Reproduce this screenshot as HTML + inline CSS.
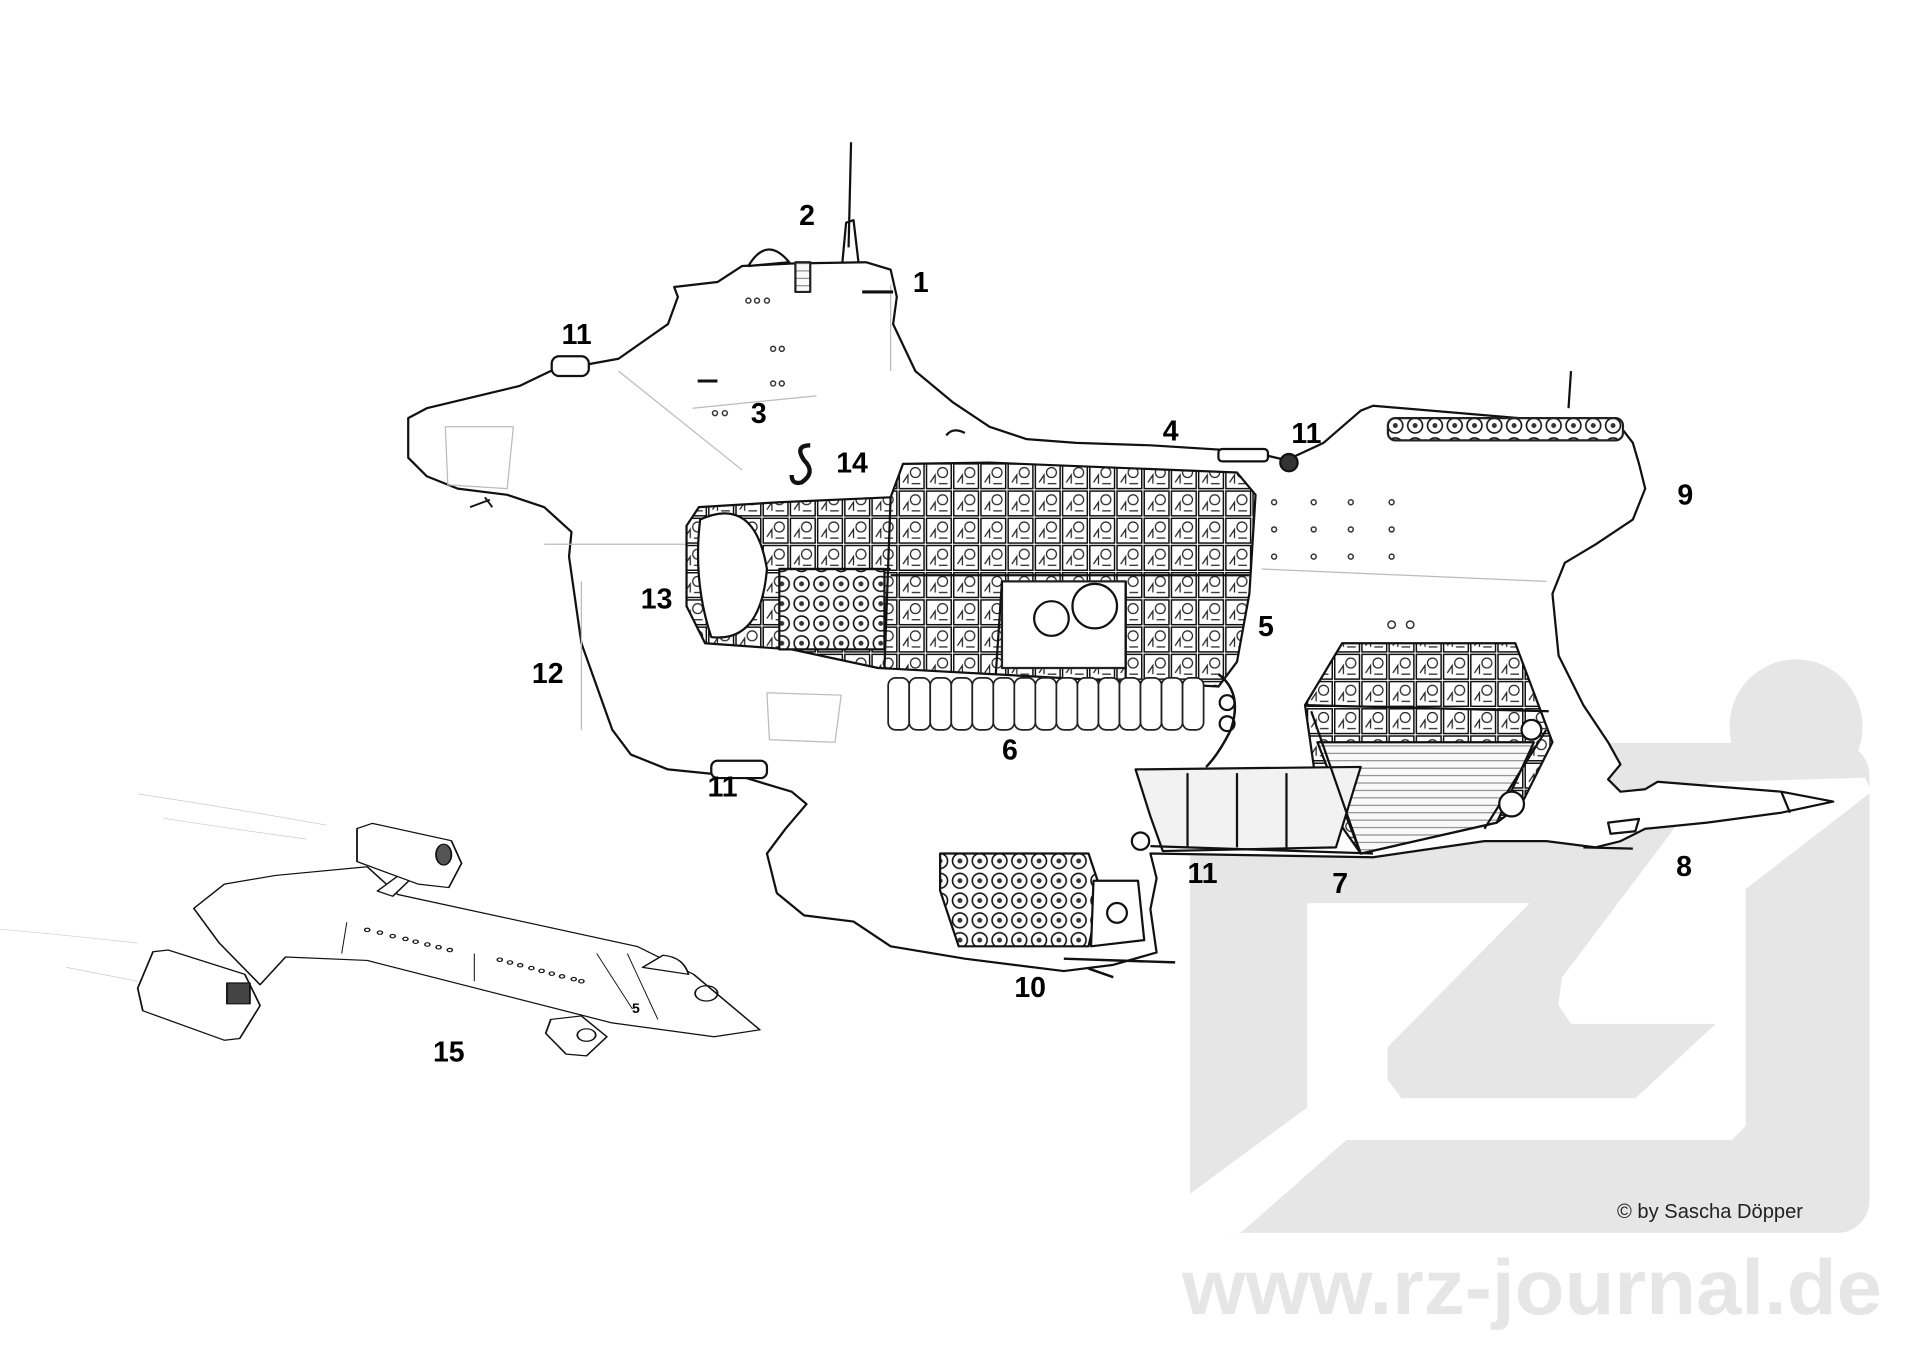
<!DOCTYPE html>
<html><head><meta charset="utf-8"><style>
html,body{margin:0;padding:0;background:#fff;}
svg{display:block;}
.l{font-family:"Liberation Sans",sans-serif;font-weight:bold;font-size:23px;fill:#000;}
</style></head><body>
<svg width="1920" height="1356" viewBox="0 0 1920 1356" xmlns="http://www.w3.org/2000/svg">
<defs>
<pattern id="cab" width="22" height="22" patternUnits="userSpaceOnUse">
<rect width="22" height="22" fill="#fff"/>
<rect x="1" y="1" width="20" height="20" fill="none" stroke="#111" stroke-width="1.2"/>
<circle cx="14" cy="8" r="4" fill="none" stroke="#222" stroke-width="1"/>
<path d="M4 16 L8 10 L8 17 M11 17 L18 17" stroke="#222" stroke-width="1" fill="none"/>
</pattern>
<pattern id="eng" width="16" height="16" patternUnits="userSpaceOnUse">
<rect width="16" height="16" fill="#fff"/>
<circle cx="8" cy="8" r="6" fill="none" stroke="#111" stroke-width="1.3"/>
<circle cx="8" cy="8" r="2" fill="#333"/>
</pattern>
<pattern id="hatch" width="6" height="6" patternUnits="userSpaceOnUse">
<rect width="6" height="6" fill="#fafafa"/>
<path d="M0 3 H6" stroke="#777" stroke-width="0.8"/>
</pattern>
</defs>
<rect width="1920" height="1356" fill="#fff"/>

<!-- logo -->
<g transform="translate(1181,643) scale(0.459,0.4645)" fill="#e6e6e6">
<rect x="20" y="215" width="1480" height="1055" rx="70"/>
<circle cx="1340" cy="180" r="145"/>
<polygon fill="#fff" points="275,560 760,560 450,870 450,940 480,980 990,980 1165,820 850,820 822,780 830,720 1150,300 1490,290 1505,320 1230,530 1230,1040 1200,1070 360,1070 130,1270 0,1270 0,1200 275,1000"/>
</g>
<text x="1182" y="1314" font-family="Liberation Sans,sans-serif" font-weight="bold" font-size="78" fill="#e6e6e6" textLength="700" lengthAdjust="spacingAndGlyphs">www.rz-journal.de</text>
<text x="1617" y="1218" font-family="Liberation Sans,sans-serif" font-size="20" fill="#222" textLength="186" lengthAdjust="spacingAndGlyphs">© by Sascha Döpper</text>

<!-- main ship (display coords) -->
<g transform="scale(1.237)" stroke="#111" stroke-width="1.8" fill="none" stroke-linejoin="round">
<path fill="#fff" d="M330 338 L345 330 L420 312 L445 300 L500 290 L540 262 L548 240 L545 232 L580 228 L600 215 L640 213 L700 212 L720 218 L725 240 L722 262 L740 300 L770 325 L800 345 L830 355 L870 358 L930 360 L1010 365 L1040 372 L1070 358 L1100 332 L1110 328 L1310 345 L1320 358 L1325 375 L1330 395 L1320 420 L1290 440 L1265 455 L1255 480 L1260 530 L1280 570 L1300 600 L1310 618 L1300 630 L1310 640 L1330 638 L1340 632 L1440 640 L1482 648 L1440 657 L1380 665 L1330 670 L1310 680 L1290 685 L1250 680 L1200 680 L1110 693 L930 690 L935 710 L930 735 L935 770 L900 780 L860 785 L780 775 L720 765 L690 745 L650 740 L628 722 L620 690 L635 670 L652 650 L640 640 L600 628 L540 622 L510 610 L495 590 L470 520 L460 450 L462 430 L440 410 L410 400 L370 395 L345 385 L330 370 Z"/>
<path d="M686 200 L688 115 M681 212 L684 180 L690 178 L694 212 M1268 330 L1270 300"/>
<path fill="#fff" d="M605 215 Q620 190 638 212 Z"/>
<rect x="643" y="212" width="12" height="24" fill="url(#hatch)" stroke="#222"/>
<rect x="446" y="288" width="30" height="16" rx="6" fill="#fff"/>
<g stroke="#bbb" stroke-width="1">
<path d="M360 345 L415 345 L410 395 L362 392 Z M470 470 L470 590 M440 440 L1000 440 M1020 460 L1250 470 M620 560 L680 562 L675 600 L622 598 Z M560 330 L660 320 M500 300 L600 380 M720 230 L720 300"/>
</g>
<rect x="1122" y="338" width="190" height="18" rx="6" fill="url(#eng)" stroke="#222"/>
<g stroke="#333" stroke-width="1.2">
<circle cx="1030" cy="406" r="2"/><circle cx="1062" cy="406" r="2"/><circle cx="1092" cy="406" r="2"/><circle cx="1125" cy="406" r="2"/>
<circle cx="1030" cy="428" r="2"/><circle cx="1062" cy="428" r="2"/><circle cx="1092" cy="428" r="2"/><circle cx="1125" cy="428" r="2"/>
<circle cx="1030" cy="450" r="2"/><circle cx="1062" cy="450" r="2"/><circle cx="1092" cy="450" r="2"/><circle cx="1125" cy="450" r="2"/>
<circle cx="578" cy="334" r="2"/><circle cx="586" cy="334" r="2"/><circle cx="625" cy="310" r="2"/><circle cx="632" cy="310" r="2"/>
<circle cx="605" cy="243" r="2"/><circle cx="612" cy="243" r="2"/><circle cx="620" cy="243" r="2"/>
<circle cx="625" cy="282" r="2"/><circle cx="632" cy="282" r="2"/>
<circle cx="1125" cy="505" r="3"/><circle cx="1140" cy="505" r="3"/>
</g>
<path d="M564 308 L580 308 M697 236 L722 236" stroke-width="2.5"/>
<path fill="url(#cab)" d="M555 425 L565 410 L630 406 L720 402 L730 375 L800 374 L1000 382 L1015 400 L1010 480 L1000 535 L985 555 L710 540 L640 525 L570 520 L555 490 Z"/>
<path fill="#fff" d="M566 420 Q610 400 620 460 Q615 520 575 515 Q560 470 566 420 Z"/>
<rect x="630" y="460" width="85" height="65" fill="url(#eng)"/>
<rect x="810" y="470" width="100" height="70" fill="#fff" stroke="#222"/>
<circle cx="850" cy="500" r="14"/><circle cx="885" cy="490" r="18"/>
<path d="M720 402 L715 540 M810 470 L805 545 M910 470 L910 550 M630 460 L720 460 M720 465 L1010 465"/>
<g fill="#fff" stroke="#222" stroke-width="1.4">
<rect x="718" y="548" width="17" height="42" rx="6"/><rect x="735" y="548" width="17" height="42" rx="6"/><rect x="752" y="548" width="17" height="42" rx="6"/><rect x="769" y="548" width="17" height="42" rx="6"/><rect x="786" y="548" width="17" height="42" rx="6"/><rect x="803" y="548" width="17" height="42" rx="6"/><rect x="820" y="548" width="17" height="42" rx="6"/><rect x="837" y="548" width="17" height="42" rx="6"/><rect x="854" y="548" width="17" height="42" rx="6"/><rect x="871" y="548" width="17" height="42" rx="6"/><rect x="888" y="548" width="17" height="42" rx="6"/><rect x="905" y="548" width="17" height="42" rx="6"/><rect x="922" y="548" width="17" height="42" rx="6"/><rect x="939" y="548" width="17" height="42" rx="6"/><rect x="956" y="548" width="17" height="42" rx="6"/>
</g>
<path d="M985 545 Q1005 560 995 590 Q985 610 975 620" stroke-width="2"/>
<circle cx="992" cy="568" r="6"/><circle cx="992" cy="585" r="6"/>
<path fill="url(#cab)" d="M1055 570 L1085 520 L1225 520 L1255 600 L1230 650 L1210 665 L1100 690 L1065 640 Z"/>
<path fill="url(#hatch)" d="M1065 600 L1240 600 L1210 665 L1100 690 Z"/>
<path d="M1055 570 L1252 575"/>
<path fill="#f2f2f2" d="M918 622 L1100 620 L1080 685 L940 688 L930 660 Z"/>
<path d="M960 625 L960 685 M1000 625 L1000 685 M1040 625 L1040 686 M930 684 L1110 690"/>
<path d="M1060 575 L1100 690 M1250 590 L1200 670"/>
<circle cx="1222" cy="650" r="10" fill="#fff"/><circle cx="1238" cy="590" r="8" fill="#fff"/>
<path fill="url(#eng)" d="M760 690 L880 690 L890 720 L880 765 L775 765 L760 720 Z"/>
<path fill="#fff" d="M884 712 L920 712 L925 760 L882 765 Z"/>
<circle cx="903" cy="738" r="8"/>
<circle cx="922" cy="680" r="7" fill="#fff"/>
<path d="M860 775 L950 778 M880 783 L900 790" stroke-width="2"/>
<rect x="1035" y="367" width="14" height="14" rx="7" fill="#333"/>
<rect x="985" y="363" width="40" height="10" rx="3" fill="#fff"/>
<rect x="575" y="615" width="45" height="14" rx="5" fill="#fff"/>
<path d="M765 352 Q770 345 780 350" />
<path d="M1300 665 L1325 662 L1322 672 L1302 674 Z" fill="#fff"/>
<path d="M1440 640 L1447 657 M1280 685 L1320 686"/>
<path d="M380 410 L396 404 M392 402 L398 410" stroke-width="1.5"/>
<path d="M655 360 Q642 360 650 372 Q660 382 648 390 Q640 392 640 384" stroke-width="3.5"/>
<g stroke="none">
<text class="l" x="646" y="182">2</text>
<text class="l" x="738" y="236">1</text>
<text class="l" x="454" y="278">11</text>
<text class="l" x="607" y="342">3</text>
<text class="l" x="676" y="382">14</text>
<text class="l" x="940" y="356">4</text>
<text class="l" x="1044" y="358">11</text>
<text class="l" x="1356" y="408">9</text>
<text class="l" x="518" y="492">13</text>
<text class="l" x="1017" y="514">5</text>
<text class="l" x="430" y="552">12</text>
<text class="l" x="810" y="614">6</text>
<text class="l" x="572" y="644">11</text>
<text class="l" x="960" y="714">11</text>
<text class="l" x="1077" y="722">7</text>
<text class="l" x="1355" y="708">8</text>
<text class="l" x="820" y="806">10</text>
<text class="l" x="350" y="858">15</text>
</g>
</g>

<!-- shuttle -->
<g transform="translate(0,780) scale(0.51,0.347)" stroke="#111" stroke-width="3.5" fill="none" stroke-linejoin="round">
<path stroke="#ccc" stroke-width="2" d="M270 40 Q450 80 640 130 M320 110 Q450 140 600 170 M0 430 Q150 450 270 470 M130 540 Q200 560 270 580"/>
<path fill="#fff" d="M380 370 L440 300 L540 275 L720 250 L780 330 L1000 400 L1250 480 L1360 560 L1490 720 L1400 740 L1200 700 L720 520 L560 510 L510 590 L430 470 Z"/>
<path fill="#fff" d="M740 320 L800 255 L820 265 L770 335 Z"/>
<path fill="#fff" d="M700 140 L730 125 L885 175 L905 240 L880 310 L820 300 L700 235 Z"/>
<path fill="#fff" d="M270 600 L300 495 L330 490 L480 560 L510 650 L470 745 L440 750 L280 665 Z"/>
<rect x="445" y="585" width="45" height="60" fill="#444"/>
<ellipse cx="870" cy="215" rx="15" ry="30" fill="#555"/>
<path fill="#fff" d="M1080 690 L1140 680 L1190 740 L1150 795 L1110 790 L1070 730 Z"/>
<circle cx="1150" cy="735" r="18"/>
<path d="M1260 540 L1350 560 Q1340 510 1300 505 Z" fill="#fff"/>
<circle cx="1385" cy="615" r="22"/>
<path d="M1170 500 L1240 660 M1230 500 L1290 690 M680 410 L670 500 M930 500 L930 580" stroke-width="2"/>
<g fill="none" stroke-width="3">
<circle cx="720" cy="432" r="5"/><circle cx="745" cy="440" r="5"/><circle cx="770" cy="450" r="5"/><circle cx="795" cy="458" r="5"/><circle cx="815" cy="466" r="5"/><circle cx="838" cy="474" r="5"/><circle cx="860" cy="482" r="5"/><circle cx="882" cy="490" r="5"/>
<circle cx="980" cy="518" r="5"/><circle cx="1000" cy="526" r="5"/><circle cx="1020" cy="534" r="5"/><circle cx="1042" cy="542" r="5"/><circle cx="1062" cy="550" r="5"/><circle cx="1082" cy="558" r="5"/><circle cx="1102" cy="566" r="5"/><circle cx="1125" cy="574" r="5"/><circle cx="1140" cy="580" r="5"/>
</g>
</g>
<text x="632" y="1013" font-family="Liberation Sans,sans-serif" font-weight="bold" font-size="14" fill="#000">5</text>
</svg>
</body></html>
